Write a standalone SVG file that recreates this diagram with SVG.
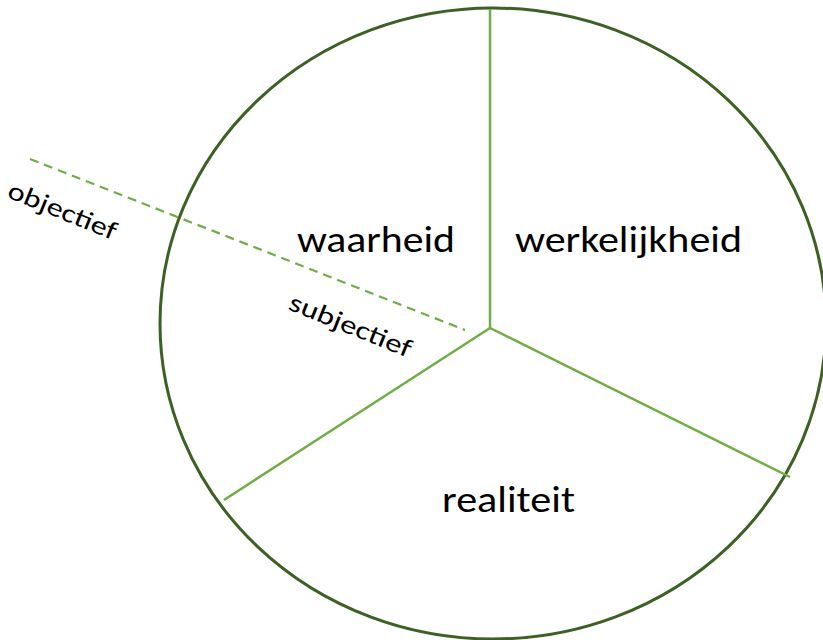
<svg xmlns="http://www.w3.org/2000/svg" width="823" height="640" viewBox="0 0 823 640">
  <style>
    .rim { fill: none; stroke: #3d6125; stroke-width: 3; }
    .spoke { stroke: #70ad47; stroke-width: 2.5; fill: none; }
    .divider { stroke: #70ad47; stroke-width: 2.2; stroke-dasharray: 9 6; fill: none; }
    .big { font-family: Carlito, "Open Sans", "Liberation Sans", sans-serif; font-size: 37px; fill: #000; }
    .small { font-family: Carlito, "Open Sans", "Liberation Sans", sans-serif; font-size: 26px; fill: #000; }
  </style>
  <rect width="823" height="640" fill="#ffffff"/>
  <g id="circle">
    <ellipse class="rim" cx="493" cy="323.5" rx="333" ry="315.5"/>
  </g>
  <g id="connectors">
    <line class="spoke" x1="490" y1="328" x2="490" y2="9"/>
    <line class="spoke" x1="490" y1="328" x2="790" y2="477"/>
    <line class="spoke" x1="490" y1="328" x2="224" y2="500"/>
    <line class="divider" x1="30" y1="159" x2="465" y2="330"/>
  </g>
  <g id="waarheid">
    <text class="big" x="297" y="252" textLength="158" lengthAdjust="spacingAndGlyphs">waarheid</text>
  </g>
  <g id="werkelijkheid">
    <text class="big" x="515" y="252" textLength="227" lengthAdjust="spacingAndGlyphs">werkelijkheid</text>
  </g>
  <g id="realiteit">
    <text class="big" x="442" y="512" textLength="133" lengthAdjust="spacingAndGlyphs">realiteit</text>
  </g>
  <g id="objectief">
    <text class="small" transform="translate(6,197) rotate(22)" textLength="115" lengthAdjust="spacingAndGlyphs">objectief</text>
  </g>
  <g id="subjectief">
    <text class="small" transform="translate(287,309) rotate(22)" textLength="130" lengthAdjust="spacingAndGlyphs">subjectief</text>
  </g>
</svg>
